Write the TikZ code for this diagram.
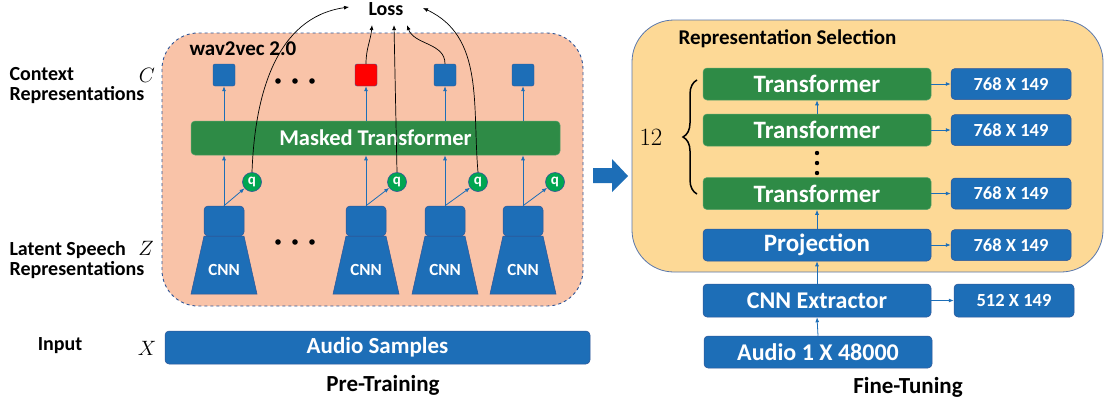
\documentclass[tikz,border=0pt]{standalone}
\usepackage{amsmath}
\usepackage{fontspec}
\setmainfont{Carlito}
\usepackage{tikz}
\usetikzlibrary{arrows.meta,calc,decorations.pathreplacing}
\definecolor{boxblue}{RGB}{29,110,183}
\definecolor{edgeblue}{RGB}{47,85,151}
\definecolor{tfgreen}{RGB}{46,139,70}
\definecolor{qgreen}{RGB}{0,166,81}
\definecolor{salmon}{RGB}{249,195,168}
\definecolor{paleorange}{RGB}{253,217,150}
\newcommand{\fs}[1]{\fontsize{#1}{#1}\selectfont\bfseries}
\tikzset{
  bluebox/.style={rectangle,rounded corners=4,fill=boxblue,draw=edgeblue,line width=.5,text=white,inner sep=0},
  greenbox/.style={rectangle,rounded corners=4,fill=tfgreen,draw=tfgreen!80!white,line width=.5,text=white,inner sep=0},
  qnode/.style={circle,fill=qgreen,draw=edgeblue,line width=.6,text=white,inner sep=0,minimum size=19,font=\fs{15}},
  flow/.style={-{Latex[length=5,width=4]},boxblue,line width=.8},
  lossarrow/.style={-{Latex[length=5,width=4]},black,line width=.7},
}

\begin{document}
\begin{tikzpicture}[x=1pt,y=-1pt]
\useasboundingbox (0,0) rectangle (1105,405);
%panels
\filldraw[fill=salmon,draw=edgeblue,dashed,line width=.9,rounded corners=36](162,33) rectangle (583,306);
\filldraw[fill=paleorange,draw=edgeblue!80!white,line width=.8,rounded corners=42](632,20) rectangle (1103,272);
\fill[boxblue](593,168)--(612,168)--(612,159)--(628,176)--(612,192)--(612,183)--(593,183)--cycle;
%left labels
\node[align=left,anchor=west,font=\fs{20}](ctx)at(6,86){Context\\Representations};
\node[font=\fontsize{20}{20}\selectfont](C)at(147,75){$C$};
\node[align=left,anchor=west,font=\fs{20}](lat)at(6,260){Latent Speech\\Representations};
\node[font=\fontsize{20}{20}\selectfont](Z)at(146,248){$Z$};
\node[font=\fs{20}](inp)at(60,346){Input};
\node[font=\fontsize{20}{20}\selectfont](X)at(147,348){$X$};
%pre-training
\node[anchor=west,font=\fs{21}](w2v)at(186,49){wav2vec 2.0};
\node[font=\fs{20}](loss)at(386,9){Loss};
\node[greenbox,minimum width=369,minimum height=34,font=\fs{22.5}](mt)at(375.5,138){Masked Transformer};
\node[bluebox,minimum width=425,minimum height=33,font=\fs{23}](audio)at(377.5,347.5){Audio Samples};
\node[font=\fs{23}](pre)at(383,385){Pre-Training};
\foreach \n/\x/\q/\c in {a/224/252/boxblue,b/366/397/red,c/445/478/boxblue,d/523/555/boxblue}{
  \filldraw[fill=boxblue,draw=edgeblue,line width=.5]($(\x,236)+(-20,0)$)--($(\x,236)+(20,0)$)--($(\x,294)+(33,0)$)--($(\x,294)+(-33,0)$)--cycle;
  \node[bluebox,minimum width=40,minimum height=30](cnn\n)at(\x,221){};
  \node[text=white,font=\fs{17}]at(\x,270){CNN};
  \node[qnode](q\n)at(\q,182){q};
  \node[rectangle,rounded corners=2,fill=\c,draw=edgeblue,line width=.4,minimum size=22,inner sep=0](ctx\n)at(\x,75){};
  \draw[flow](cnn\n.north)--(q\n);
  \draw[flow](cnn\n.north)--(cnn\n.north|-mt.south);
  \draw[flow](ctx\n|-mt.north)--(ctx\n.south);
}
\foreach \x in {278,295,312}{
  \fill(\x,81)circle(2.8);
  \fill(\x,242)circle(2.8);
}
%loss arrows
\draw[lossarrow](qa.north)to[out=88,in=188]($(loss.west)+(-16,-2)$);
\draw[lossarrow](ctxb.north)to[out=90,in=-95]($(loss.south)+(-14,6)$);
\draw[lossarrow](qb.north)--($(loss.south)+(8,6)$);
\draw[lossarrow](ctxc.north)to[out=90,in=-70]($(loss.south)+(21,6)$);
\draw[lossarrow](qc.north)to[out=95,in=-25]($(loss.east)+(16,-1)$);
%fine-tuning
\node[anchor=west,font=\fs{21}](rsel)at(675,39){Representation Selection};
\node[greenbox,minimum width=228,minimum height=32,font=\fs{25}](tf1)at(817,84){Transformer};
\node[greenbox,minimum width=228,minimum height=32,font=\fs{25}](tf2)at(817,130){Transformer};
\node[greenbox,minimum width=228,minimum height=32,font=\fs{25}](tf3)at(817,193.5){Transformer};
\node[bluebox,minimum width=228,minimum height=32,font=\fs{25}](proj)at(817,245){Projection};
\node[bluebox,minimum width=228,minimum height=33,font=\fs{24}](cnnx)at(817,300.5){CNN Extractor};
\node[bluebox,minimum width=228,minimum height=32,font=\fs{24}](aud)at(818,352){Audio 1 X 48000};
\foreach \n/\y in {tf1/84,tf2/130,tf3/193.5,proj/245}{
  \node[bluebox,minimum width=120,minimum height=31,font=\fs{18.5}](out\n)at(1011,\y){768 X 149};
  \draw[flow](\n.east)--(out\n.west);
}
\node[bluebox,minimum width=120,minimum height=33,font=\fs{18.5}](outcnnx)at(1014,300.5){512 X 149};
\draw[flow](cnnx.east)--(outcnnx.west);
\draw[flow](tf2.north)--(tf1.south);
\draw[flow](proj.north)--(tf3.south);
\draw[flow](cnnx.north)--(proj.south);
\draw[flow](aud.north)--(cnnx.south);
\foreach \y in {153,163,173}{
  \fill(817,\y)circle(2.2);
}
\node[font=\fontsize{28}{28}\selectfont](twelve)at(651,137){$12$};
\draw[decorate,decoration={brace,amplitude=14},line width=1.5](697,194)--(697,80);
\node[font=\fs{23}](fine)at(908,387){Fine-Tuning};
\end{tikzpicture}
\end{document}
